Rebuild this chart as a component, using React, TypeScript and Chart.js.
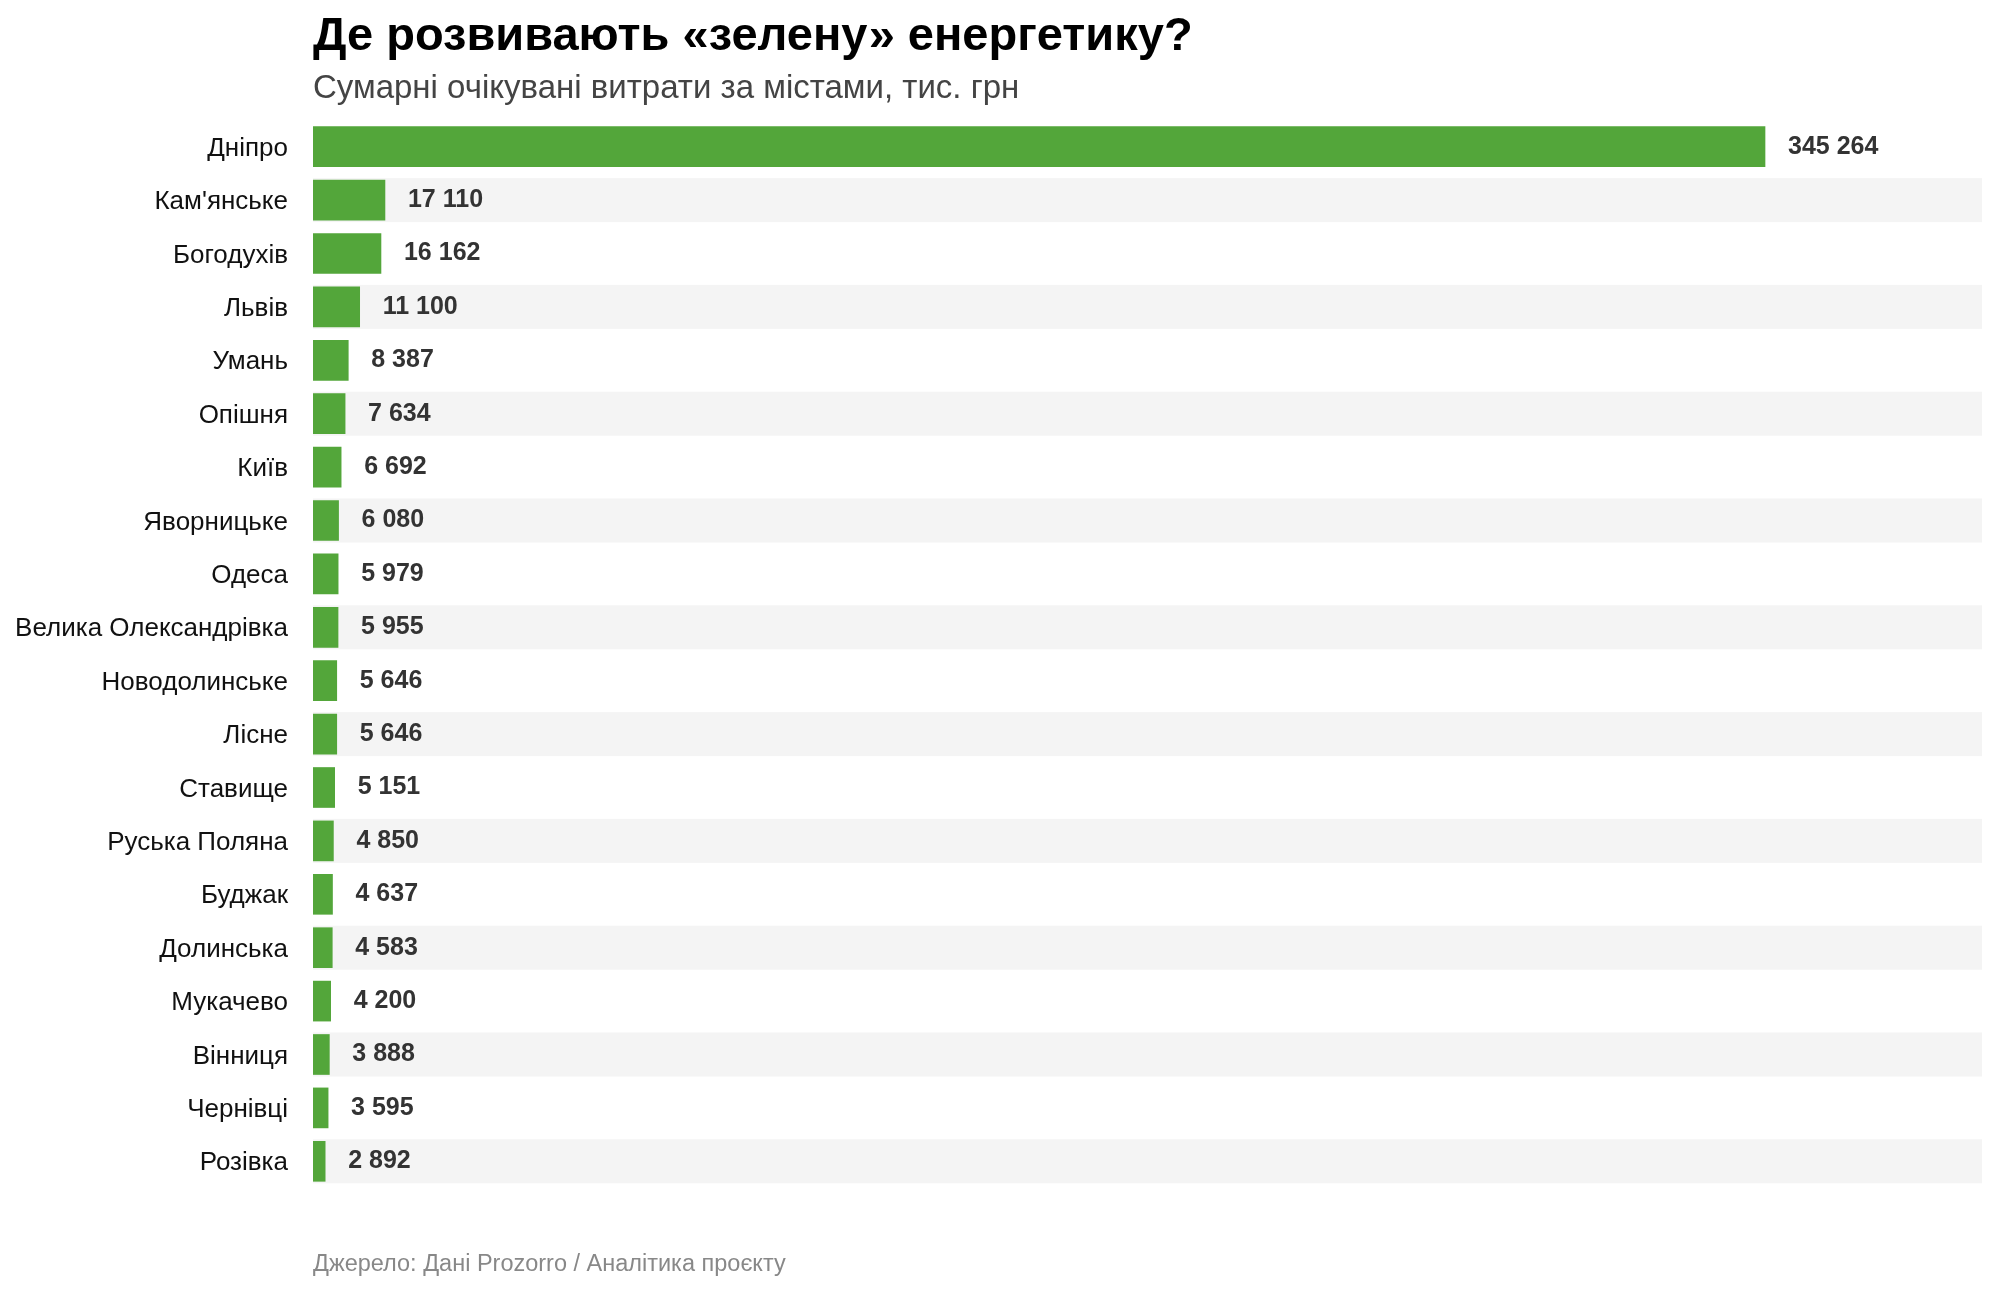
import React, { useEffect, useRef } from "react";
import { Chart, registerables } from "chart.js";

Chart.register(...registerables);

const TITLE = "Де розвивають «зелену» енергетику?";
const SUBTITLE = "Сумарні очікувані витрати за містами, тис. грн";
const SOURCE = "Джерело: Дані Prozorro / Аналітика проєкту";

const cities = [
  "Дніпро",
  "Кам'янське",
  "Богодухів",
  "Львів",
  "Умань",
  "Опішня",
  "Київ",
  "Яворницьке",
  "Одеса",
  "Велика Олександрівка",
  "Новодолинське",
  "Лісне",
  "Ставище",
  "Руська Поляна",
  "Буджак",
  "Долинська",
  "Мукачево",
  "Вінниця",
  "Чернівці",
  "Розівка",
];

const spending = [
  345264, 17110, 16162, 11100, 8387, 7634, 6692, 6080, 5979, 5955, 5646, 5646,
  5151, 4850, 4637, 4583, 4200, 3888, 3595, 2892,
];

const X_MAX = 396860;
const FONT = "'Liberation Sans', Arial, Helvetica, sans-serif";

const fmt = (v: number) =>
  String(Math.round(v)).replace(/\B(?=(\d{3})+(?!\d))/g, " ");

export default function App() {
  const ref = useRef<HTMLCanvasElement | null>(null);

  useEffect(() => {
    if (!ref.current) return;
    document.body.style.margin = "0";

    const stripes = {
      id: "stripes",
      beforeDatasetsDraw(chart: any) {
        const { ctx, chartArea } = chart;
        const y = chart.scales.y;
        ctx.save();
        ctx.fillStyle = "#f4f4f4";
        cities.forEach((_, i) => {
          if (i % 2 === 1) {
            const cy = y.getPixelForValue(i);
            ctx.fillRect(chartArea.left, cy - 22, chartArea.right - chartArea.left, 44);
          }
        });
        ctx.restore();
      },
    };

    const valueLabels = {
      id: "valueLabels",
      afterDatasetsDraw(chart: any) {
        const { ctx } = chart;
        const meta = chart.getDatasetMeta(0);
        ctx.save();
        ctx.fillStyle = "#333333";
        ctx.font = `bold 25px ${FONT}`;
        ctx.textAlign = "left";
        ctx.textBaseline = "middle";
        meta.data.forEach((bar: any, i: number) => {
          ctx.fillText(fmt(spending[i]), bar.x + 23, bar.y);
        });
        ctx.restore();
      },
    };

    const texts = {
      id: "texts",
      afterDraw(chart: any) {
        const { ctx, chartArea } = chart;
        const x = chartArea.left;
        ctx.save();
        ctx.textAlign = "left";
        ctx.textBaseline = "alphabetic";
        ctx.fillStyle = "#000000";
        ctx.font = `bold 47px ${FONT}`;
        ctx.fillText(TITLE, x, 50);
        ctx.fillStyle = "#444444";
        ctx.font = `33px ${FONT}`;
        ctx.fillText(SUBTITLE, x, 98);
        ctx.fillStyle = "#888888";
        ctx.font = `23.5px ${FONT}`;
        ctx.fillText(SOURCE, x, 1271);
        ctx.restore();
      },
    };

    const chart = new Chart(ref.current, {
      type: "bar",
      data: {
        labels: cities,
        datasets: [
          {
            data: spending,
            backgroundColor: "#53a63a",
            borderWidth: 0,
            barThickness: 40,
          },
        ],
      },
      options: {
        indexAxis: "y",
        responsive: false,
        animation: false,
        layout: { padding: { top: 120, bottom: 105, left: 0, right: 17 } },
        plugins: {
          legend: { display: false },
          tooltip: { enabled: false },
          title: { display: false },
        },
        scales: {
          x: {
            display: false,
            min: 0,
            max: X_MAX,
            grid: { display: false },
          },
          y: {
            grid: { display: false, drawTicks: false },
            border: { display: false },
            ticks: {
              padding: 25,
              labelOffset: 2,
              color: "#111111",
              font: { family: FONT, size: 26 },
            },
            afterFit(scale: any) {
              scale.width = 313;
            },
          },
        },
      },
      plugins: [stripes, valueLabels, texts],
    });

    return () => chart.destroy();
  }, []);

  return (
    <canvas
      ref={ref}
      width={1999}
      height={1293}
      style={{ display: "block", position: "absolute", left: 0, top: 0 }}
    />
  );
}
